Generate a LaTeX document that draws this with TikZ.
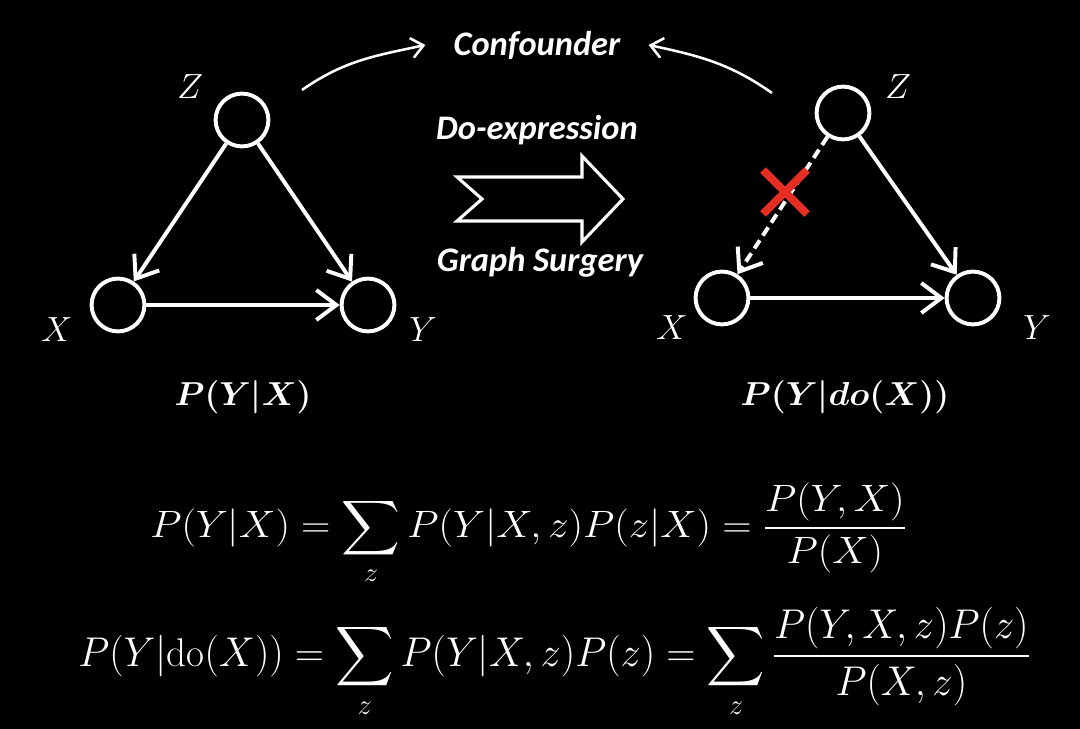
\documentclass[tikz,border=0pt]{standalone}
\usepackage{fontspec}
\newfontfamily\calibri{Carlito}
\usepackage{amsmath}
\usetikzlibrary{arrows.meta}
\definecolor{crossred}{RGB}{228,45,35}

\tikzset{
  var/.style={circle, draw=white, line width=2.8pt, minimum size=1.32cm, inner sep=0pt},
  edge/.style={draw=white, line width=2.8pt, -{Straight Barb[length=5mm,width=7.5mm]}},
  conn/.style={draw=white, line width=1.8pt, -{Straight Barb[length=3mm,width=5mm]}},
  caption/.style={font=\calibri\bfseries\itshape\fontsize{24.5}{28}\selectfont},
}

\begin{document}
\begin{tikzpicture}[x=0.025cm, y=-0.025cm, text=white, font=\fontsize{24}{28}\selectfont]
\fill[black] (0,0) rectangle (1080,729);
% left graph
\node[var] (z1) at (242,120) {};
\node[var] (x1) at (118,305) {};
\node[var] (y1) at (368,305) {};
\node (lz1) at (190,87) {$Z$};
\node (lx1) at (57,330) {$X$};
\node (ly1) at (423,330) {$Y$};
\draw[edge] (z1) -- (x1);
\draw[edge] (z1) -- (y1);
\draw[edge] (x1) -- (y1);
\node[inner sep=0] (p1) at (243,397) {\resizebox*{3.42cm}{0.83cm}{\boldmath$P(Y|X)$}};
% right graph
\node[var] (z2) at (843,113) {};
\node[var] (x2) at (722,298) {};
\node[var] (y2) at (973,298) {};
\node (lz2) at (898,87) {$Z$};
\node (lx2) at (672,328) {$X$};
\node (ly2) at (1037,328) {$Y$};
\draw[edge, dash pattern=on 7pt off 4pt] (z2) -- (x2);
\draw[edge] (z2) -- (y2);
\draw[edge] (x2) -- (y2);
\draw[crossred, line width=5.6pt] (763,170) -- (807,214) (763,214) -- (807,170);
\node[inner sep=0] (p2) at (845,397) {\resizebox*{5.22cm}{0.83cm}{\boldmath$P(Y|do(X))$}};
% middle: confounder and surgery
\node[caption, inner xsep=0.7cm] (conf) at (537,45) {Confounder};
\coordinate (c1) at (302,90);
\coordinate (c2) at (772,93);
\draw[conn] (c1) to[out=35, in=192] (conf.west);
\draw[conn] (c2) to[out=145, in=-12] (conf.east);
\node[caption] (doexp) at (537,130) {Do-expression};
\node[caption] (surg) at (540,262) {Graph Surgery};
\draw[white, line width=2.2pt, line join=miter]
  (457,177) -- (582,177) -- (582,156) -- (623,199) -- (582,242) -- (582,221) -- (457,221) -- (482,199) -- cycle;
% formulas
\node[anchor=north west, inner sep=0] (eq1) at (150,483)
  {\resizebox*{18.9cm}{2.55cm}{$\displaystyle P(Y|X)=\sum_z P(Y|X,z)P(z|X)=\frac{P(Y,X)}{P(X)}$}};
\node[anchor=north west, inner sep=0] (eq2) at (78,607)
  {\resizebox*{23.8cm}{2.78cm}{$\displaystyle P(Y|\mathrm{do}(X))=\sum_z P(Y|X,z)P(z)=\sum_z\frac{P(Y,X,z)P(z)}{P(X,z)}$}};
\end{tikzpicture}
\end{document}
